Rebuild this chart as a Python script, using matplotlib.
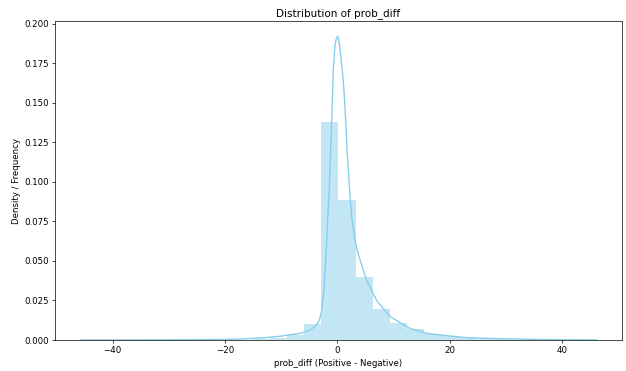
import matplotlib
matplotlib.use('Agg')
import matplotlib.pyplot as plt

# histogram bins (edges) and density heights
bin_edges = [-45.68, -42.62, -39.56, -36.50, -33.44, -30.39, -27.33, -24.27,
             -21.21, -18.15, -15.09, -12.03, -8.97, -5.91, -2.85, 0.21,
             3.27, 6.32, 9.38, 12.44, 15.50, 18.56, 21.62, 24.68, 27.74,
             30.80, 33.85, 36.91, 39.97, 43.03, 46.09]
bin_density = [0.00005, 0.00003, 0.00003, 0.00005, 0.00005, 0.0001, 0.0001,
               0.0001, 0.0002, 0.0003, 0.0006, 0.0011, 0.0030, 0.0099,
               0.1378, 0.0884, 0.0399, 0.0198, 0.0106, 0.0070, 0.0040,
               0.0024, 0.0013, 0.0007, 0.0004, 0.0002, 0.0001, 0.0001,
               0.00005, 0.00005]

# kde curve
kde_x = [-45.7, -35.0, -25.0, -20.0, -17.3, -13.2, -10.0, -8.7, -6.6, -4.9,
         -3.8, -3.2, -2.8, -2.4, -2.0, -1.42, -1.0, -0.71, -0.4, -0.2, 0.06,
         0.3, 0.6, 0.9, 1.19, 1.5, 1.78, 2.2, 2.56, 3.1, 3.74, 5.2, 7.0, 9.4,
         12.9, 15.9, 20.1, 23.0, 29.0, 35.0, 40.0, 46.1]
kde_y = [0.00005, 0.0001, 0.0002, 0.0004, 0.0006, 0.0014, 0.0024, 0.0032,
         0.0042, 0.0063, 0.0090, 0.0125, 0.018, 0.031, 0.055, 0.097, 0.138,
         0.171, 0.187, 0.190, 0.192, 0.189, 0.180, 0.170, 0.158, 0.138,
         0.118, 0.094, 0.078, 0.064, 0.054, 0.038, 0.025, 0.0148, 0.0074,
         0.0042, 0.0025, 0.0015, 0.0008, 0.0004, 0.0002, 0.0001]

fig, ax = plt.subplots(figsize=(626 / 62.6, 371 / 62.6), dpi=62.6)

widths = [bin_edges[i + 1] - bin_edges[i] for i in range(len(bin_density))]
ax.bar(bin_edges[:-1], bin_density, width=widths, align='edge',
       color='skyblue', alpha=0.5, linewidth=0)
ax.plot(kde_x, kde_y, color='skyblue', linewidth=1.6)

ax.set_xlim(-50.27, 50.7)
ax.set_ylim(0, 0.2016)
ax.set_xticks([-40, -20, 0, 20, 40])
ax.set_yticks([0.0, 0.025, 0.05, 0.075, 0.1, 0.125, 0.15, 0.175, 0.2])
ax.yaxis.set_major_formatter(matplotlib.ticker.FormatStrFormatter('%.3f'))

ax.set_title('Distribution of prob_diff')
ax.set_xlabel('prob_diff (Positive - Negative)')
ax.set_ylabel('Density / Frequency')

plt.subplots_adjust(left=55 / 626, right=622 / 626, top=1 - 21 / 371, bottom=1 - 340 / 371)
plt.savefig('out.png', dpi=62.6)
